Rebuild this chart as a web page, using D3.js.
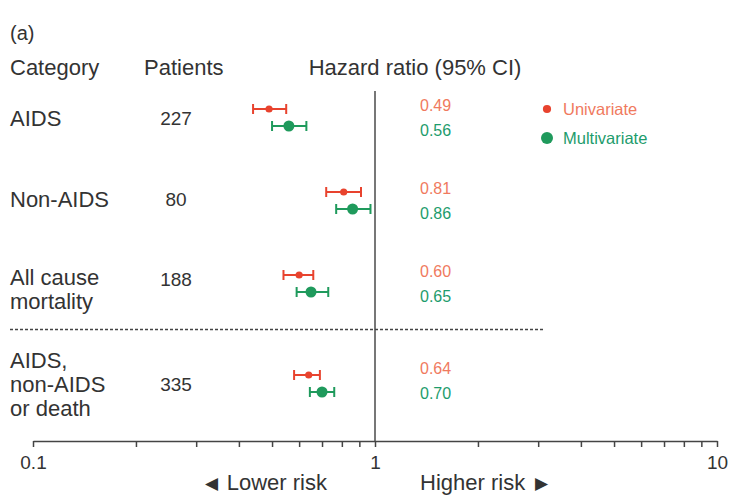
<!DOCTYPE html>
<html>
<head>
<meta charset="utf-8">
<script src="https://cdn.jsdelivr.net/npm/d3@7"></script>
<style>
  body { margin: 0; background: #fff; }
  text { font-family: "Liberation Sans", Arial, sans-serif; fill: #333; }
</style>
</head>
<body>
<div id="chart_root"></div>
<script>
// data
const categories = [["AIDS"], ["Non-AIDS"], ["All cause", "mortality"], ["AIDS,", "non-AIDS", "or death"]];
const patients = [227, 80, 188, 335];
const uniHR = [0.49, 0.81, 0.60, 0.64];
const uniLo = [0.44, 0.72, 0.54, 0.58];
const uniHi = [0.55, 0.91, 0.66, 0.69];
const multiHR = [0.56, 0.86, 0.65, 0.70];
const multiLo = [0.50, 0.77, 0.59, 0.645];
const multiHi = [0.63, 0.97, 0.73, 0.76];
const tickValues = [0.1, 0.2, 0.3, 0.4, 0.5, 0.6, 0.7, 0.8, 0.9, 1, 2, 3, 4, 5, 6, 7, 8, 9, 10];
const tickLabels = {0.1: "0.1", 1: "1", 10: "10"};

const width = 731, height = 495;
const red = "#e8432e", green = "#1f9a5c";
const redText = "#f07a5e", greenText = "#1d9c6c";

const svg = d3.select("#chart_root")
    .append("svg")
    .attr("width", width)
    .attr("height", height);

const x = d3.scaleLog()
    .domain([0.1, 10])
    .range([33, 717]);

// row positions, with an extra gap after the separator
const rowGap = 17;
const y = d3.scaleLinear()
    .domain([0, 1])
    .range([117.5, 200.5]);
const rowY = i => y(i) + (i >= 3 ? rowGap : 0);

// header
svg.append("text").attr("x", 10).attr("y", 40).style("font-size", "20px").text("(a)");
svg.append("text").attr("x", 10).attr("y", 75).style("font-size", "22px").text("Category");
svg.append("text").attr("x", 144).attr("y", 75).style("font-size", "22px").text("Patients");
svg.append("text").attr("x", 415).attr("y", 75).attr("text-anchor", "middle")
    .style("font-size", "22px").text("Hazard ratio (95% CI)");

// reference line at HR = 1
svg.append("line")
    .attr("x1", x(1)).attr("x2", x(1))
    .attr("y1", 91).attr("y2", 441)
    .attr("stroke", "#555").attr("stroke-width", 1.6);

// separator
svg.append("line")
    .attr("x1", 10).attr("x2", 543)
    .attr("y1", (rowY(2) + rowY(3)) / 2 - 4).attr("y2", (rowY(2) + rowY(3)) / 2 - 4)
    .attr("stroke", "#444").attr("stroke-width", 1.3)
    .attr("stroke-dasharray", "3,2");

// axis
const axis = svg.append("g")
    .attr("transform", "translate(0,441)")
    .call(d3.axisBottom(x).tickValues(tickValues).tickSize(6).tickSizeOuter(0)
        .tickFormat(d => tickLabels[d] || ""));
axis.select(".domain").attr("stroke", "#444").attr("stroke-width", 1.5);
axis.selectAll(".tick line").attr("stroke", "#444").attr("stroke-width", 1.5);
axis.selectAll(".tick text")
    .attr("y", 15)
    .style("font-size", "19px")
    .style("font-family", "Liberation Sans, Arial, sans-serif")
    .attr("fill", "#333");

const lower = svg.append("text").attr("x", 327).attr("y", 490).attr("text-anchor", "end")
    .style("font-size", "22px");
lower.append("tspan").style("font-size", "17px").attr("dy", -1).text("\u25C0");
lower.append("tspan").attr("dy", 1).attr("dx", 9).text("Lower risk");
const higher = svg.append("text").attr("x", 420).attr("y", 490)
    .style("font-size", "22px");
higher.append("tspan").text("Higher risk");
higher.append("tspan").style("font-size", "17px").attr("dy", -1).attr("dx", 10).text("\u25B6");

// category labels and patient counts
const rows = svg.append("g").selectAll("g")
    .data(categories)
    .enter()
    .append("g");

rows.each(function(lines, i) {
    const n = lines.length;
    const top = rowY(i) + 8 - (n - 1) * 12 + (n === 2 ? 5 : 0) - (i === 1 ? 2 : 0);
    d3.select(this).selectAll("text")
        .data(lines)
        .enter()
        .append("text")
        .attr("x", 10)
        .attr("y", (d, j) => top + j * 24)
        .style("font-size", "22px")
        .text(d => d);
});

svg.append("g").selectAll("text")
    .data(patients)
    .enter()
    .append("text")
    .attr("x", 176)
    .attr("y", (d, i) => rowY(i) + 7 - (i === 2 ? 5 : 0) - (i === 1 ? 2 : 0))
    .attr("text-anchor", "middle")
    .style("font-size", "19px")
    .text(d => d);

// estimates with confidence intervals
const series = [
    {name: "Univariate", hr: uniHR, lo: uniLo, hi: uniHi, color: red, text: redText, off: -8.5, r: 3.6, lab: -12.5},
    {name: "Multivariate", hr: multiHR, lo: multiLo, hi: multiHi, color: green, text: greenText, off: 8.5, r: 5.5, lab: 12.5}
];

series.forEach(s => {
    const g = svg.append("g");
    const idx = d3.range(s.hr.length);
    g.selectAll(".ci")
        .data(idx)
        .enter()
        .append("line")
        .attr("x1", i => x(s.lo[i]))
        .attr("x2", i => x(s.hi[i]))
        .attr("y1", i => rowY(i) + s.off)
        .attr("y2", i => rowY(i) + s.off)
        .attr("stroke", s.color).attr("stroke-width", 2);
    ["lo", "hi"].forEach(k => {
        g.selectAll(".cap" + k)
            .data(idx)
            .enter()
            .append("line")
            .attr("x1", i => x(s[k][i]))
            .attr("x2", i => x(s[k][i]))
            .attr("y1", i => rowY(i) + s.off - 5)
            .attr("y2", i => rowY(i) + s.off + 5)
            .attr("stroke", s.color).attr("stroke-width", 2);
    });
    g.selectAll("circle")
        .data(idx)
        .enter()
        .append("circle")
        .attr("cx", i => x(s.hr[i]))
        .attr("cy", i => rowY(i) + s.off)
        .attr("r", s.r)
        .attr("fill", s.color);
    g.selectAll("text")
        .data(idx)
        .enter()
        .append("text")
        .attr("x", 420)
        .attr("y", i => rowY(i) + s.lab + 6 - (i === 3 ? 3 : 0))
        .style("font-size", "16px")
        .style("fill", s.text)
        .text(i => s.hr[i].toFixed(2));
});

// legend
const legend = svg.append("g").selectAll("g")
    .data(series)
    .enter()
    .append("g")
    .attr("transform", (d, i) => `translate(547,${109 + i * 29})`);
legend.append("circle")
    .attr("r", d => d.r + 0.5)
    .attr("fill", d => d.color);
legend.append("text")
    .attr("x", 16).attr("y", 6)
    .style("font-size", "16.5px")
    .style("fill", d => d.text)
    .text(d => d.name);
</script>
</body>
</html>
